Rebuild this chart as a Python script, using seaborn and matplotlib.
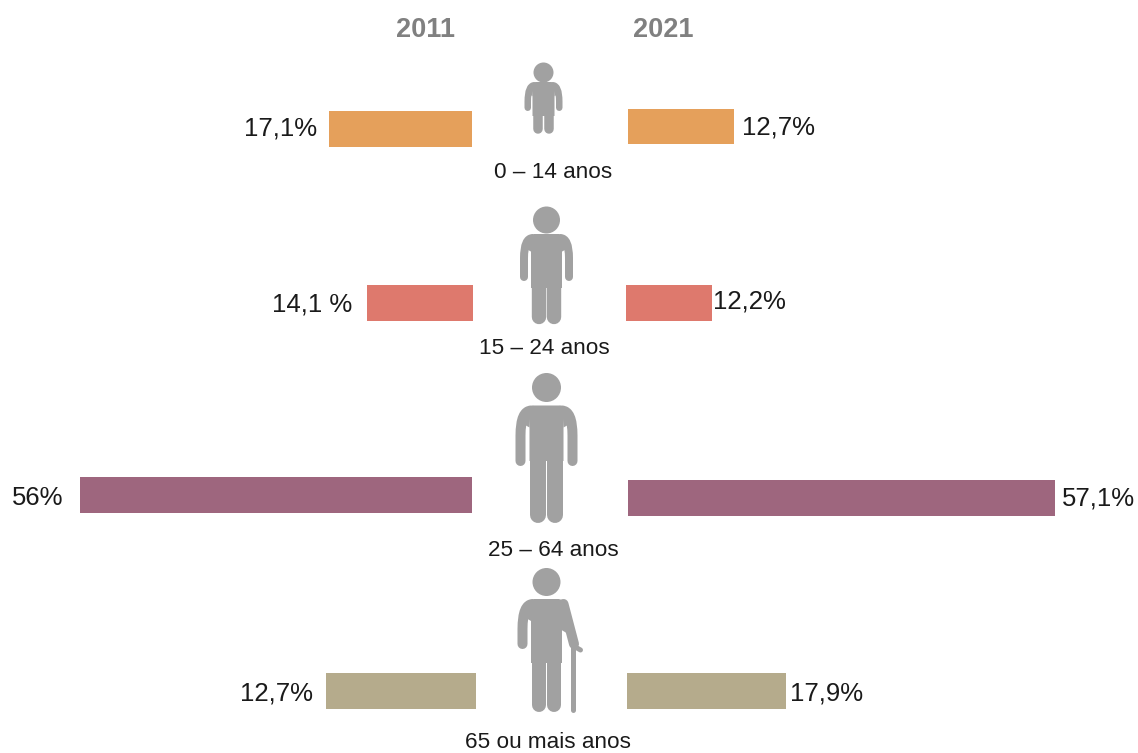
import matplotlib
matplotlib.use('Agg')
import matplotlib.pyplot as plt
from matplotlib.patches import Circle, PathPatch, Polygon
from matplotlib.path import Path
import seaborn as sns

sns.set_theme(style='white')
plt.rcParams['font.family'] = ['Liberation Sans', 'DejaVu Sans']

W, H = 1138, 753

# data
faixas = ['0 – 14 anos', '15 – 24 anos', '25 – 64 anos', '65 ou mais anos']
valores_2011 = [17.1, 14.1, 56.0, 12.7]
valores_2021 = [12.7, 12.2, 57.1, 17.9]
rotulos_2011 = ['17,1%', '14,1 %', '56%', '12,7%']
rotulos_2021 = ['12,7%', '12,2%', '57,1%', '17,9%']
cores = ['#E5A05B', '#DE796D', '#9E667E', '#B5AB8C']

# caixas das barras em pixels (x0, x1, y0, y1): no original as barras
# nao sao proporcionais aos valores, cada uma tem a sua escala
caixas_2011 = [(329, 472, 111, 147), (367, 473, 285, 321), (80, 472, 477, 513), (326, 476, 673, 709)]
caixas_2021 = [(628, 734, 109, 144), (626, 712, 285, 321), (628, 1055, 480, 516), (627, 786, 673, 709)]
pos_rotulos_2011 = [(317, 128), (352, 304), (63, 498), (313, 693)]
pos_rotulos_2021 = [(742, 127), (713, 301), (1062, 498), (790, 693)]
pos_faixas = [(553, 172), (544, 348), (553, 551), (548, 742)]

CINZA = '#A1A1A1'

fig = plt.figure(figsize=(W / 100, H / 100), dpi=100)
fundo = fig.add_axes([0, 0, 1, 1])
fundo.set_xlim(0, W)
fundo.set_ylim(H, 0)
fundo.axis('off')


def desenha_barra(valor, faixa, cor, caixa, invertido):
    x0, x1, y0, y1 = caixa
    ax = fig.add_axes([x0 / W, 1 - y1 / H, (x1 - x0) / W, (y1 - y0) / H])
    sns.barplot(x=[valor], y=[faixa], color=cor, saturation=1, width=1, orient='h',
                linewidth=0, ax=ax)
    ax.set_ylim(0.5, -0.5)
    if invertido:
        ax.set_xlim(valor, 0)
    else:
        ax.set_xlim(0, valor)
    ax.axis('off')


for i, faixa in enumerate(faixas):
    desenha_barra(valores_2011[i], faixa, cores[i], caixas_2011[i], True)
    desenha_barra(valores_2021[i], faixa, cores[i], caixas_2021[i], False)
    x, y = pos_rotulos_2011[i]
    fundo.text(x, y, rotulos_2011[i], ha='right', va='center', fontsize=18.5, color='#1a1a1a')
    x, y = pos_rotulos_2021[i]
    fundo.text(x, y, rotulos_2021[i], ha='left', va='center', fontsize=18.5, color='#1a1a1a')
    x, y = pos_faixas[i]
    fundo.text(x, y, faixa, ha='center', va='center', fontsize=16.2, color='#1a1a1a')

fundo.text(426, 30, '2011', ha='center', va='center', fontsize=19.5, fontweight='bold', color='#808080')
fundo.text(663, 30, '2021', ha='center', va='center', fontsize=19.5, fontweight='bold', color='#808080')


def traco(xs, ys, largura):
    fundo.plot(xs, ys, color=CINZA, lw=largura * 0.72, solid_capstyle='round', solid_joinstyle='round')


def braco_curvo(x_ini, x_fim, topo, mao, largura):
    # sai do tronco, faz a curva do ombro e desce ate a mao
    y_curva = topo + largura * 3
    caminho = Path([(x_ini, topo + largura / 2), (x_fim, topo + largura / 2), (x_fim, y_curva),
                    (x_fim, mao - largura / 2)],
                   [Path.MOVETO, Path.CURVE3, Path.CURVE3, Path.LINETO])
    fundo.add_patch(PathPatch(caminho, fill=False, edgecolor=CINZA, lw=largura * 0.72,
                              capstyle='round', joinstyle='round'))


def ombro_cheio(cx, lado, tronco, x_braco, topo, braco):
    # preenche a axila, a fenda entre braco e tronco so comeca mais abaixo
    fundo.add_patch(Polygon([(cx + lado * (tronco - 1), topo + braco / 2),
                             (cx + lado * (x_braco - 1), topo + braco),
                             (cx + lado * x_braco, topo + 1.7 * braco),
                             (cx + lado * tronco, topo + 2.2 * braco)],
                            closed=True, color=CINZA, lw=0))


def pessoa(cx, cabeca_y, r, topo, ombro, tronco, mao, pe, virilha, perna, braco, bengala=False):
    # icone: cabeca, tronco, bracos e pernas
    fundo.add_patch(Circle((cx, cabeca_y), r, color=CINZA, lw=0))
    meio = braco / 2
    fundo.add_patch(Polygon([(cx - tronco, topo + braco), (cx - tronco + 3, topo), (cx + tronco - 3, topo),
                             (cx + tronco, topo + braco), (cx + tronco, virilha + 3),
                             (cx - tronco, virilha + 3)],
                            closed=True, color=CINZA, lw=0))
    braco_curvo(cx - tronco + 2, cx - ombro + meio, topo, mao, braco)
    ombro_cheio(cx, -1, tronco, ombro - meio, topo, braco)
    if bengala:
        traco([cx + 17, cx + 27.5], [topo + meio, mao - meio], braco)
        fundo.add_patch(Polygon([(cx + 12, topo), (cx + 20, topo + 2), (cx + 27, mao - 12), (cx + 15, virilha - 30)],
                                closed=True, color=CINZA, lw=0))
        traco([cx + 27, cx + 34], [mao - 3, mao + 1], 5)
        traco([cx + 27, cx + 27], [mao - 3, pe - 2], 5)
    else:
        braco_curvo(cx + tronco - 2, cx + ombro - meio, topo, mao, braco)
        ombro_cheio(cx, 1, tronco, ombro - meio, topo, braco)
    folga = perna / 2 + 0.6
    traco([cx - folga, cx - folga], [virilha, pe - perna / 2], perna)
    traco([cx + folga, cx + folga], [virilha, pe - perna / 2], perna)


pessoa(543.5, 72.5, 10, 82, 19, 11, 111, 133.5, 113, 9.5, 6.5)
pessoa(546.5, 220, 13.5, 234, 26.5, 15.5, 281, 324, 285, 14.4, 8)
pessoa(546.5, 387.5, 14.5, 405.5, 31, 17, 466, 522.5, 458, 16, 10)
pessoa(546.5, 582, 14, 599, 29, 15.5, 649, 712, 660, 14, 10, bengala=True)

fig.savefig('out.png', dpi=100)
